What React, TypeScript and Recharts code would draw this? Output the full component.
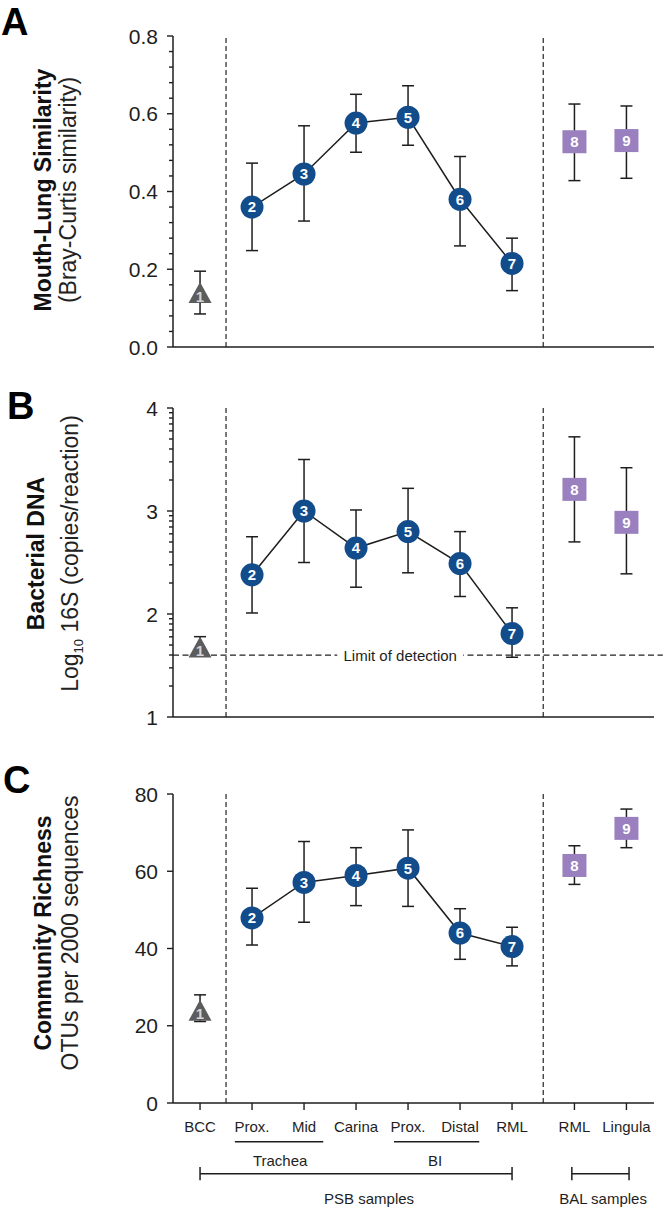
import React from 'react';
import { ComposedChart, Scatter, XAxis, YAxis, ErrorBar, ReferenceLine, ReferenceDot } from 'recharts';

const FONT = '"Liberation Sans", Arial, Helvetica, sans-serif';
const INK = '#1e1e1e';
const NAVY = '#124c8b';
const PURPLE = '#9a80bf';
const GREY = '#5c5c5c';

// ---- categories ----
const pointIds = [1, 2, 3, 4, 5, 6, 7, 8, 9];
const sitePositions = [1, 2, 3, 4, 5, 6, 7, 8.2, 9.2];
const siteLabels = ['BCC', 'Prox.', 'Mid', 'Carina', 'Prox.', 'Distal', 'RML', 'RML', 'Lingula'];
const siteGroups = ['BCC', 'PSB', 'PSB', 'PSB', 'PSB', 'PSB', 'PSB', 'BAL', 'BAL'];
const xDomain: [number, number] = [0.48, 9.73];
const dividerPositions = [1.5, 7.6];

// ---- panel A: mouth-lung similarity ----
const similarityMean = [0.14, 0.36, 0.445, 0.576, 0.591, 0.38, 0.215, 0.528, 0.531];
const similarityErrLow = [0.055, 0.112, 0.121, 0.075, 0.072, 0.12, 0.07, 0.1, 0.097];
const similarityErrHigh = [0.055, 0.113, 0.124, 0.074, 0.081, 0.11, 0.065, 0.097, 0.089];
const similarityTicks = [0, 0.2, 0.4, 0.6, 0.8];
const similarityMinorStep = 0.04;

// ---- panel B: bacterial DNA ----
const dnaMean = [1.68, 2.38, 3.0, 2.64, 2.8, 2.49, 1.81, 3.21, 2.89];
const dnaErrLow = [0.08, 0.37, 0.5, 0.38, 0.4, 0.32, 0.23, 0.51, 0.5];
const dnaErrHigh = [0.1, 0.37, 0.5, 0.37, 0.42, 0.31, 0.25, 0.51, 0.53];
const dnaTicks = [1, 2, 3, 4];
const detectionLimit = 1.6;
const detectionLabelX = 4.85;

// ---- panel C: community richness ----
const richnessMean = [24, 47.9, 57.1, 58.9, 60.8, 44.0, 40.5, 61.5, 71.1];
const richnessErrLow = [2.9, 7.0, 10.3, 7.8, 9.9, 6.8, 5.0, 4.9, 5.0];
const richnessErrHigh = [4.0, 7.7, 10.6, 7.2, 9.9, 6.3, 5.0, 5.1, 5.0];
const richnessTicks = [0, 20, 40, 60, 80];

// ---- grouping annotations (x in axis units) ----
const subGroupLabels = ['Trachea', 'BI'];
const subGroupFrom = [1.67, 4.73];
const subGroupTo = [3.37, 6.37];
const subGroupMid = [2.54, 5.52];
const sampleGroupLabels = ['PSB samples', 'BAL samples'];
const sampleGroupFrom = [1, 8.15];
const sampleGroupTo = [7, 9.25];
const sampleGroupMid = [4.25, 8.75];

type Row = { x: number; y: number; err: [number, number]; id: number; group: string };

function buildRows(mean: number[], lo: number[], hi: number[]): Row[] {
  return pointIds.map((id, i) => ({
    x: sitePositions[i],
    y: mean[i],
    err: [lo[i], hi[i]],
    id,
    group: siteGroups[i],
  }));
}

const TriangleMarker = (p: any) => {
  const { cx, cy, payload } = p;
  if (cx == null || cy == null) return null;
  const w = 23;
  const h = 21;
  return (
    <g>
      <path d={`M${cx},${cy - h / 2} L${cx + w / 2},${cy + h / 2} L${cx - w / 2},${cy + h / 2} Z`} fill={GREY} />
      <text x={cx} y={cy + h / 2 - 1.5} textAnchor="middle" fill="#d4d4d4" fontSize={15} fontWeight="bold" fontFamily={FONT}>
        {payload.id}
      </text>
    </g>
  );
};

const CircleMarker = (p: any) => {
  const { cx, cy, payload } = p;
  if (cx == null || cy == null) return null;
  return (
    <g>
      <circle cx={cx} cy={cy} r={11.5} fill={NAVY} />
      <text x={cx} y={cy} dy="0.36em" textAnchor="middle" fill="#fff" fontSize={15} fontWeight="bold" fontFamily={FONT}>
        {payload.id}
      </text>
    </g>
  );
};

const SquareMarker = (p: any) => {
  const { cx, cy, payload } = p;
  if (cx == null || cy == null) return null;
  return (
    <g>
      <rect x={cx - 12} y={cy - 11.5} width={24} height={23} fill={PURPLE} />
      <text x={cx} y={cy} dy="0.36em" textAnchor="middle" fill="#fff" fontSize={15} fontWeight="bold" fontFamily={FONT}>
        {payload.id}
      </text>
    </g>
  );
};

const makeYTick = (majors: number[], fmt: (v: number) => string) => (props: any) => {
  const { x, y, payload } = props;
  const v = payload.value;
  const isMajor = majors.some((m) => Math.abs(m - v) < 1e-6);
  return (
    <g>
      <line x1={x} x2={x - (isMajor ? 6 : 4)} y1={y} y2={y} stroke={INK} strokeWidth={1.4} />
      {isMajor && (
        <text x={x - 15} y={y} dy="0.36em" textAnchor="end" fontSize={21} fill={INK} fontFamily={FONT}>
          {fmt(v)}
        </text>
      )}
    </g>
  );
};

type TitleCfg = {
  letter: string;
  letterX: number;
  letterY: number;
  title: string;
  subtitle: React.ReactNode;
  titleX: number;
  subX: number;
  shift: number;
};

const makeTitle = (cfg: TitleCfg) => (props: any) => {
  const vb = props.viewBox || {};
  const cy = (vb.y ?? 0) + (vb.height ?? 0) / 2 + cfg.shift;
  return (
    <g fontFamily={FONT}>
      <text x={cfg.letterX} y={cfg.letterY} fontSize={38} fontWeight="bold" fill="#000">
        {cfg.letter}
      </text>
      <text
        x={cfg.titleX}
        y={cy}
        transform={`rotate(-90 ${cfg.titleX} ${cy})`}
        textAnchor="middle"
        fontSize={23}
        fontWeight="bold"
        fill="#111"
      >
        {cfg.title}
      </text>
      <text x={cfg.subX} y={cy} transform={`rotate(-90 ${cfg.subX} ${cy})`} textAnchor="middle" fontSize={23} fill="#222">
        {cfg.subtitle}
      </text>
    </g>
  );
};

const LodLabel = (p: any) => {
  const { cx, cy } = p;
  if (cx == null || cy == null) return null;
  return (
    <g>
      <rect x={cx - 63} y={cy - 9} width={126} height={18} fill="#fff" />
      <text x={cx} y={cy} dy="0.36em" textAnchor="middle" fontSize={15} fill={INK} fontFamily={FONT}>
        Limit of detection
      </text>
    </g>
  );
};

const makeTextDot = (label: string) => (p: any) => {
  const { cx, cy } = p;
  if (cx == null || cy == null) return null;
  return (
    <text x={cx} y={cy} dy="0.36em" textAnchor="middle" fontSize={15} fill={INK} fontFamily={FONT}>
      {label}
    </text>
  );
};

const siteLabelFor = (v: number) => {
  const i = sitePositions.findIndex((p) => Math.abs(p - v) < 1e-6);
  return i >= 0 ? siteLabels[i] : '';
};

type PanelProps = {
  height: number;
  top: number;
  bottom: number;
  xAxisHeight: number;
  rows: Row[];
  yDomain: [number, number];
  yTicks: number[];
  yMajors: number[];
  yFmt: (v: number) => string;
  showXLabels: boolean;
  title: TitleCfg;
  children?: React.ReactNode;
};

function Panel(props: PanelProps) {
  const { height, top, bottom, xAxisHeight, rows, yDomain, yTicks, yMajors, yFmt, showXLabels, title, children } = props;
  const bcc = rows.filter((r) => r.group === 'BCC');
  const psb = rows.filter((r) => r.group === 'PSB');
  const bal = rows.filter((r) => r.group === 'BAL');
  return (
    <ComposedChart width={666} height={height} margin={{ top, right: 12, bottom, left: 0 }}>
      <XAxis
        dataKey="x"
        type="number"
        domain={xDomain}
        allowDataOverflow
        ticks={sitePositions}
        interval={0}
        height={xAxisHeight}
        tickSize={7}
        tickMargin={11}
        axisLine={{ stroke: INK, strokeWidth: 1.5 }}
        tickLine={{ stroke: INK, strokeWidth: 1.4 }}
        tick={showXLabels ? { fontSize: 15, fill: INK, fontFamily: FONT } : false}
        tickFormatter={siteLabelFor}
      />
      <YAxis
        dataKey="y"
        type="number"
        domain={yDomain}
        allowDataOverflow
        ticks={yTicks}
        interval={0}
        width={173}
        tickSize={0}
        tickMargin={0}
        tickLine={false}
        axisLine={{ stroke: INK, strokeWidth: 1.5 }}
        tick={makeYTick(yMajors, yFmt)}
        label={makeTitle(title)}
      />
      {dividerPositions.map((d) => (
        <ReferenceLine key={`div${d}`} x={d} stroke="#333" strokeWidth={1.3} strokeDasharray="5 3" />
      ))}
      {children}
      <Scatter data={bcc} shape={TriangleMarker} isAnimationActive={false}>
        <ErrorBar dataKey="err" direction="y" width={6} stroke={INK} strokeWidth={1.5} />
      </Scatter>
      <Scatter
        data={psb}
        shape={CircleMarker}
        line={{ stroke: INK, strokeWidth: 1.5 }}
        lineType="joint"
        isAnimationActive={false}
      >
        <ErrorBar dataKey="err" direction="y" width={6} stroke={INK} strokeWidth={1.5} />
      </Scatter>
      <Scatter data={bal} shape={SquareMarker} isAnimationActive={false}>
        <ErrorBar dataKey="err" direction="y" width={6} stroke={INK} strokeWidth={1.5} />
      </Scatter>
    </ComposedChart>
  );
}

const similarityMinorTicks = Array.from(
  { length: Math.round(0.8 / similarityMinorStep) + 1 },
  (_, i) => +(i * similarityMinorStep).toFixed(2)
);
const dnaMinorTicks: number[] = [];
for (let n = 1; n < 4; n++) {
  dnaMinorTicks.push(n);
  for (let k = 2; k <= 9; k++) dnaMinorTicks.push(n + Math.log10(k));
}
dnaMinorTicks.push(4);

// layout constants for panel C annotations (in y data units of panel C)
const UNDERLINE_Y = -10;
const SUBLABEL_Y = -15;
const BRACKET_Y = -18.3;
const CAP_HALF = 1.7;
const SAMPLELABEL_Y = -24.7;

export default function App() {
  const rowsA = buildRows(similarityMean, similarityErrLow, similarityErrHigh);
  const rowsB = buildRows(dnaMean, dnaErrLow, dnaErrHigh);
  const rowsC = buildRows(richnessMean, richnessErrLow, richnessErrHigh);
  return (
    <div style={{ position: 'absolute', left: 0, top: 0, width: 666, height: 1210, background: '#fff' }}>
      <Panel
        height={360}
        top={36}
        bottom={0}
        xAxisHeight={13}
        rows={rowsA}
        yDomain={[0, 0.8]}
        yTicks={similarityMinorTicks}
        yMajors={similarityTicks}
        yFmt={(v) => v.toFixed(1)}
        showXLabels={false}
        title={{
          letter: 'A',
          letterX: 1,
          letterY: 35,
          title: 'Mouth-Lung Similarity',
          subtitle: '(Bray-Curtis similarity)',
          titleX: 51,
          subX: 76,
          shift: -1.5,
        }}
      />
      <Panel
        height={370}
        top={48}
        bottom={0}
        xAxisHeight={13}
        rows={rowsB}
        yDomain={[1, 4]}
        yTicks={dnaMinorTicks}
        yMajors={dnaTicks}
        yFmt={(v) => String(v)}
        showXLabels={false}
        title={{
          letter: 'B',
          letterX: 7,
          letterY: 59,
          title: 'Bacterial DNA',
          subtitle: (
            <>
              <tspan>Log</tspan>
              <tspan fontSize={13} dy={5}>
                10
              </tspan>
              <tspan dy={-5}> 16S (copies/reaction)</tspan>
            </>
          ),
          titleX: 44,
          subX: 78,
          shift: -9,
        }}
      >
        <ReferenceLine
          segment={[
            { x: xDomain[0], y: detectionLimit },
            { x: 9.9, y: detectionLimit },
          ]}
          ifOverflow="visible"
          stroke="#222"
          strokeWidth={1.3}
          strokeDasharray="6 3.5"
        />
        <ReferenceDot x={detectionLabelX} y={detectionLimit} ifOverflow="visible" shape={LodLabel} />
      </Panel>
      <Panel
        height={480}
        top={64}
        bottom={77}
        xAxisHeight={30}
        rows={rowsC}
        yDomain={[0, 80]}
        yTicks={richnessTicks}
        yMajors={richnessTicks}
        yFmt={(v) => String(v)}
        showXLabels={true}
        title={{
          letter: 'C',
          letterX: 3,
          letterY: 63,
          title: 'Community Richness',
          subtitle: 'OTUs per 2000 sequences',
          titleX: 51,
          subX: 78,
          shift: -15.5,
        }}
      >
        {subGroupLabels.map((lab, i) => (
          <ReferenceLine
            key={`ul${i}`}
            segment={[
              { x: subGroupFrom[i], y: UNDERLINE_Y },
              { x: subGroupTo[i], y: UNDERLINE_Y },
            ]}
            ifOverflow="visible"
            stroke={INK}
            strokeWidth={1.5}
          />
        ))}
        {subGroupLabels.map((lab, i) => (
          <ReferenceDot key={`sl${i}`} x={subGroupMid[i]} y={SUBLABEL_Y} ifOverflow="visible" shape={makeTextDot(lab)} />
        ))}
        {sampleGroupLabels.map((lab, i) => (
          <ReferenceLine
            key={`br${i}`}
            segment={[
              { x: sampleGroupFrom[i], y: BRACKET_Y },
              { x: sampleGroupTo[i], y: BRACKET_Y },
            ]}
            ifOverflow="visible"
            stroke={INK}
            strokeWidth={1.5}
          />
        ))}
        {sampleGroupLabels.map((lab, i) => (
          <ReferenceLine
            key={`bl${i}`}
            segment={[
              { x: sampleGroupFrom[i], y: BRACKET_Y - CAP_HALF },
              { x: sampleGroupFrom[i], y: BRACKET_Y + CAP_HALF },
            ]}
            ifOverflow="visible"
            stroke={INK}
            strokeWidth={1.5}
          />
        ))}
        {sampleGroupLabels.map((lab, i) => (
          <ReferenceLine
            key={`bc${i}`}
            segment={[
              { x: sampleGroupTo[i], y: BRACKET_Y - CAP_HALF },
              { x: sampleGroupTo[i], y: BRACKET_Y + CAP_HALF },
            ]}
            ifOverflow="visible"
            stroke={INK}
            strokeWidth={1.5}
          />
        ))}
        {sampleGroupLabels.map((lab, i) => (
          <ReferenceDot key={`gl${i}`} x={sampleGroupMid[i]} y={SAMPLELABEL_Y} ifOverflow="visible" shape={makeTextDot(lab)} />
        ))}
      </Panel>
    </div>
  );
}
